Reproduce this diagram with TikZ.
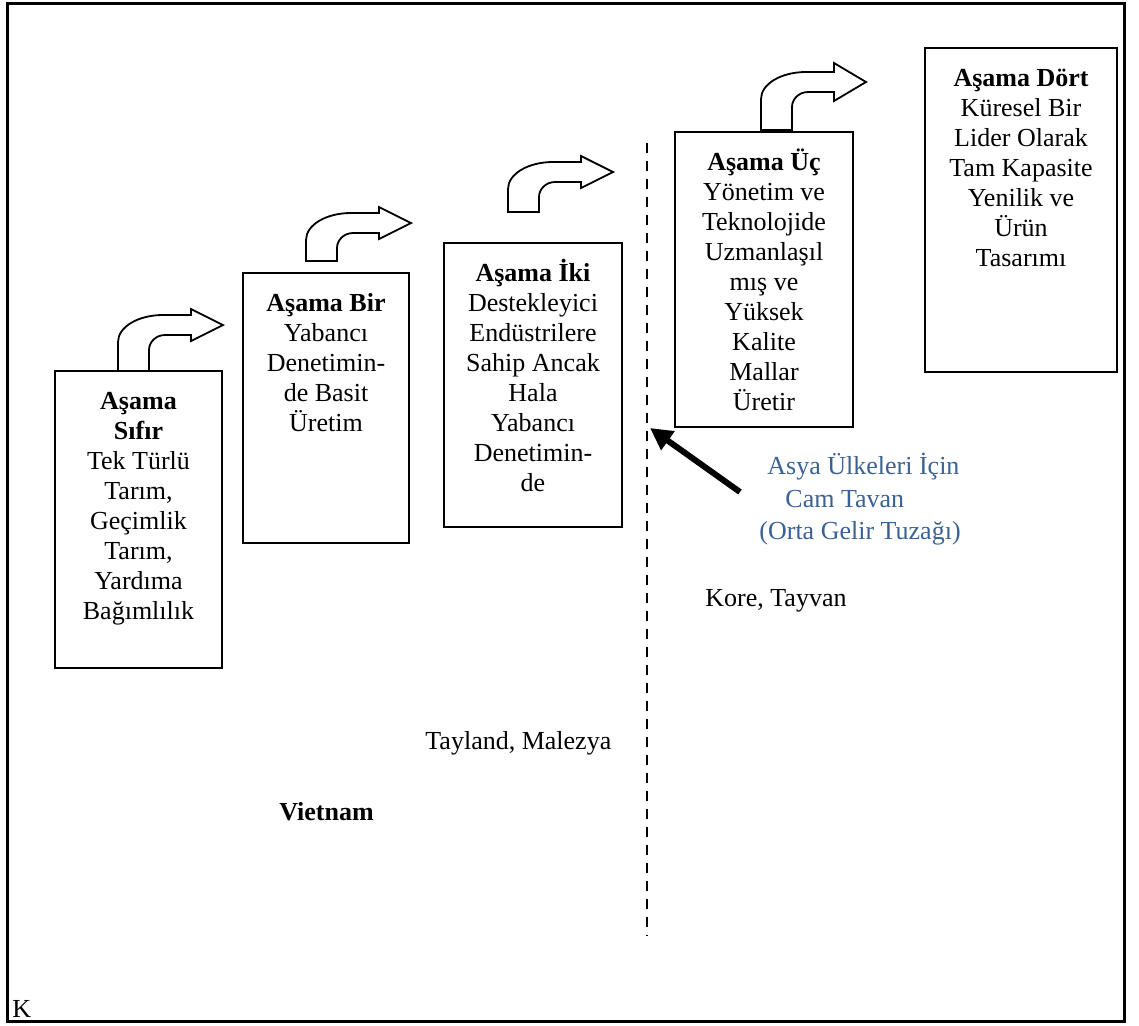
\documentclass[tikz,border=0pt]{standalone}
\usepackage{fontspec}
\setmainfont{Liberation Serif}
\usetikzlibrary{arrows.meta}
\definecolor{capblue}{RGB}{58,98,148}
\newcommand{\fl}{\rule{0pt}{12bp}}
% #1 stem left x, #2 stem bottom y, #3 shaft top y, #4 head half height (px, y down)
\newcommand{\bentarr}[4]{%
  \draw[bentstyle] (#1,#2) -- (#1,#3+27)
    .. controls (#1,#3+12) and (#1+20,#3) .. (#1+45,#3)
    -- (#1+73,#3) -- (#1+73,#3+10-#4) -- (#1+105,#3+10) -- (#1+73,#3+10+#4)
    -- (#1+73,#3+20) -- (#1+47,#3+20)
    .. controls (#1+38,#3+20) and (#1+31,#3+27) .. (#1+31,#3+35)
    -- (#1+31,#2) -- cycle;}
\begin{document}
\begin{tikzpicture}[x=0.5bp,y=-0.5bp,
  stage/.style={draw, line width=1bp, anchor=north west, inner sep=0pt, outer sep=0pt},
  stagetext/.style={anchor=north, align=center, inner sep=0pt, font=\fontsize{13bp}{15bp}\selectfont},
  plain/.style={anchor=base west, inner sep=0pt, font=\fontsize{13bp}{15bp}\selectfont},
  bluetext/.style={plain, text=capblue},
  bentstyle/.style={draw, line width=0.9bp, fill=white, line join=miter},
  frame/.style={draw, line width=1.5bp},
  ceiling/.style={draw, line width=1.25bp, dash pattern=on 5bp off 4bp},
  bigarrow/.style={draw, line width=3bp, -{Triangle[length=11bp,width=11bp]}}
]
\useasboundingbox (0,0) rectangle (1139,1025);
\fill[white] (0,0) rectangle (1139,1025);
\draw[frame] (7,3) rectangle (1124,1021);

% stage boxes
\node[stage, minimum width=83.5bp, minimum height=148.5bp] (s0) at (55,371) {};
\node[stage, minimum width=83bp, minimum height=135bp] (s1) at (243,273) {};
\node[stage, minimum width=89bp, minimum height=142bp] (s2) at (444,243) {};
\node[stage, minimum width=89bp, minimum height=147.5bp] (s3) at (675,132) {};
\node[stage, minimum width=96bp, minimum height=162bp] (s4) at (925,48) {};

\node[stagetext] (s0t) at (138.5,385) {\fl\textbf{Aşama}\\\textbf{Sıfır}\\Tek Türlü\\Tarım,\\Geçimlik\\Tarım,\\Yardıma\\Bağımlılık};
\node[stagetext] (s1t) at (326,287) {\fl\textbf{Aşama Bir}\\Yabancı\\Denetimin-\\de Basit\\Üretim};
\node[stagetext] (s2t) at (533,257) {\fl\textbf{Aşama İki}\\Destekleyici\\Endüstrilere\\Sahip Ancak\\Hala\\Yabancı\\Denetimin-\\de};
\node[stagetext] (s3t) at (764,146) {\fl\textbf{Aşama Üç}\\Yönetim ve\\Teknolojide\\Uzmanlaşıl\\mış ve\\Yüksek\\Kalite\\Mallar\\Üretir};
\node[stagetext] (s4t) at (1021,62) {\fl\textbf{Aşama Dört}\\Küresel Bir\\Lider Olarak\\Tam Kapasite\\Yenilik ve\\Ürün\\Tasarımı};

% bent arrows
\bentarr{118}{371}{315}{16}
\bentarr{306}{261}{213}{16}
\bentarr{508}{212}{162}{16}
\bentarr{761}{130}{72}{19}

% glass ceiling line
\coordinate (dtop) at (647,143);
\coordinate (dbot) at (647,936);
\draw[ceiling] (dtop) -- (dbot);

% caption and arrow
\node[bluetext] (asya1) at (767,474) {Asya Ülkeleri İçin};
\node[bluetext] (asya2) at (785,507) {Cam Tavan};
\node[bluetext] (asya3) at (759,539) {(Orta Gelir Tuzağı)};
\coordinate (atail) at (740,492);
\coordinate (atip) at (650,428);
\draw[bigarrow] (atail) -- (atip);

% country labels
\node[plain] (kore) at (705,606) {Kore, Tayvan};
\node[plain] (tayland) at (425,749) {Tayland, Malezya};
\node[plain, font=\fontsize{13bp}{15bp}\selectfont\bfseries] (vietnam) at (279,820) {Vietnam};
\node[plain] (kay) at (12,1017) {K};
\end{tikzpicture}
\end{document}
